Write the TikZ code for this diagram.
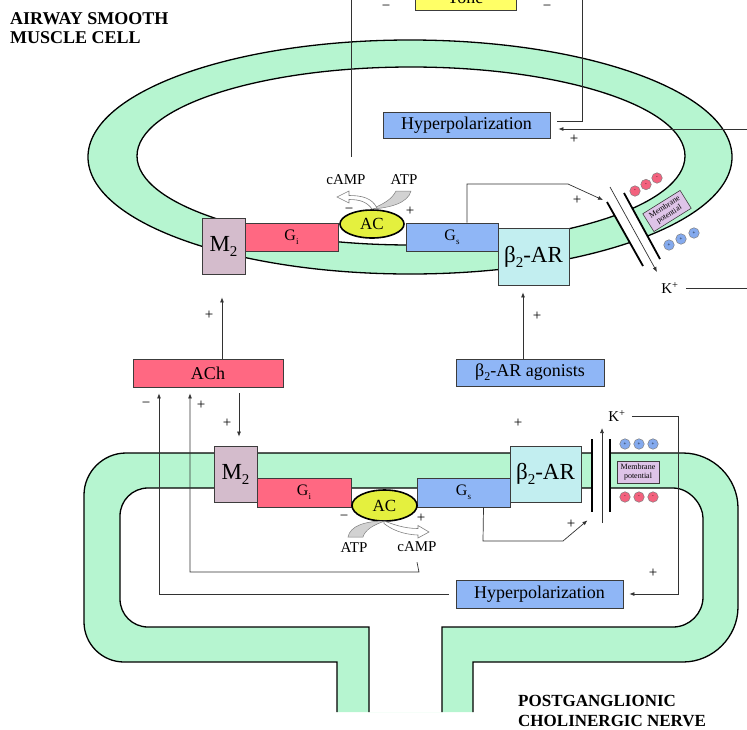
\documentclass[tikz,border=0pt]{standalone}
\usepackage{fontspec}
\setmainfont{Liberation Serif}
\usetikzlibrary{arrows.meta,shapes.geometric}
\definecolor{memgreen}{RGB}{182,245,208}
\definecolor{gired}{RGB}{255,104,130}
\definecolor{gsblue}{RGB}{143,182,246}
\definecolor{mauve}{RGB}{212,188,204}
\definecolor{bcyan}{RGB}{194,238,240}
\definecolor{acyellow}{RGB}{228,240,62}
\definecolor{toneyellow}{RGB}{255,255,102}
\definecolor{lavender}{RGB}{222,196,232}
\definecolor{ionred}{RGB}{243,98,126}
\definecolor{ionblue}{RGB}{132,170,238}
\definecolor{boxline}{RGB}{60,60,60}
\definecolor{linegray}{RGB}{50,50,50}
\newcommand\myfs[1]{\fontsize{#1}{#1}\selectfont}
\newcommand\lsub[3]{\raisebox{-#2}{\fontsize{#3}{#3}\selectfont #1}}
\begin{document}
\begin{tikzpicture}[x=1pt,y=-1pt,
  box/.style={draw=boxline, line width=0.8pt, inner sep=0pt, text=black},
  memline/.style={draw=black, line width=1.3pt},
  conn/.style={draw=linegray, line width=0.7pt},
  arr/.style={conn, -{Latex[length=5pt,width=4pt]}},
  chan/.style={draw=black, line width=1.8pt},
  sgn/.style={font=\myfs{15}, inner sep=0pt},
  lbl/.style={font=\myfs{15}, inner sep=0pt},
  ion/.style={circle, draw=gray, line width=0.5pt, minimum size=10.5pt, inner sep=0pt, font=\myfs{5}},
  mpbox/.style={draw=boxline, line width=0.6pt, fill=lavender, inner sep=1.2pt, align=center, font=\fontsize{8}{8.5}\selectfont},
]
\useasboundingbox (0,0) rectangle (747,729);
\clip (0,0) rectangle (747,729);

% ---------- top cell membrane ----------
\fill[memgreen, even odd rule] (410,157) ellipse [x radius=322, y radius=117] (411,156) ellipse [x radius=274, y radius=89];
\draw[memline] (410,157) ellipse [x radius=322, y radius=117];
\draw[memline] (411,156) ellipse [x radius=274, y radius=89];
% channel gap
\fill[white] (607,202) -- (624,193) -- (660,259) -- (643,266) -- cycle;

% ---------- nerve terminal ----------
\path[fill=memgreen, even odd rule]
 (337,712) -- (337,662) -- (124,662) .. controls (102,662) and (84,644) .. (84,622) -- (84,495) .. controls (84,472) and (103,453) .. (126,453) -- (683,453) .. controls (713,453) and (738,478) .. (738,508) -- (738,607) .. controls (738,637) and (713,662) .. (683,662) -- (473,662) -- (473,712) -- cycle
 (369,712) -- (369,627) -- (148,627) .. controls (132.5,627) and (120,614.5) .. (120,599) -- (120,516) .. controls (120,500.5) and (132.5,488) .. (148,488) -- (673,488) .. controls (689.5,488) and (703,504.5) .. (703,518) -- (703,597) .. controls (703,613.5) and (689.5,627) .. (673,627) -- (442,627) -- (442,712) -- cycle;
\draw[memline] (337,712) -- (337,662) -- (124,662) .. controls (102,662) and (84,644) .. (84,622) -- (84,495) .. controls (84,472) and (103,453) .. (126,453) -- (683,453) .. controls (713,453) and (738,478) .. (738,508) -- (738,607) .. controls (738,637) and (713,662) .. (683,662) -- (473,662) -- (473,712);
\draw[memline] (369,712) -- (369,627) -- (148,627) .. controls (132.5,627) and (120,614.5) .. (120,599) -- (120,516) .. controls (120,500.5) and (132.5,488) .. (148,488) -- (673,488) .. controls (689.5,488) and (703,504.5) .. (703,518) -- (703,597) .. controls (703,613.5) and (689.5,627) .. (673,627) -- (442,627) -- (442,712);
\fill[white] (592.5,450) rectangle (609.5,491);

% ---------- top cell nodes ----------
\node[box, fill=toneyellow, minimum width=101pt, minimum height=30pt] (tone) at (465.5,-5) {};
\node[anchor=base, inner sep=0pt, font=\myfs{18}] (tonetxt) at (465.5,3) {Tone};
\node[box, fill=gsblue, minimum width=167pt, minimum height=26pt, font=\myfs{18}] (hypt) at (466.5,125) {Hyperpolarization};
\node[box, fill=mauve, minimum width=43pt, minimum height=56pt, font=\myfs{23}] (m2t) at (223.5,246) {M\lsub{2}{5pt}{15}};
\node[box, fill=gired, minimum width=93pt, minimum height=28pt, font=\myfs{16}] (git) at (291.5,237) {G\lsub{i}{4pt}{9}};
\node[box, fill=gsblue, minimum width=92pt, minimum height=28pt, font=\myfs{16}] (gst) at (452,237) {G\lsub{s}{4pt}{9}};
\node[ellipse, draw=black, line width=1.6pt, fill=acyellow, minimum width=64pt, minimum height=28pt, inner sep=0pt, font=\myfs{17}] (act) at (372,224) {AC};
\node[box, fill=bcyan, minimum width=71pt, minimum height=57pt, font=\myfs{23}] (b2t) at (533.5,256.5) {β\lsub{2}{5pt}{15}-AR};

% channel (top)
\draw[chan] (607,202) -- (643,266);
\draw[chan] (624,193) -- (660,259);
\coordinate (kt1) at (610,187);
\coordinate (kt2) at (657,272);
\draw[arr] (kt1) -- (kt2);
\node[mpbox, rotate=32, minimum width=44pt, minimum height=21pt] (mpt) at (667,211) {Membrane\\potential};
\foreach \p/\q in {635/191, 646/184.5, 657/178} \node[ion, fill=ionred] at (\p,\q) {-};
\foreach \p/\q in {669/245, 681/239, 694/233} \node[ion, fill=ionblue] at (\p,\q) {+};
\node[lbl] (kplt) at (670,288) {K\textsuperscript{+}};
\coordinate (kto) at (747,288);
\draw[conn] ([xshift=7pt]kplt.east) -- (kto);

% top curved arrows
\fill[gray!35, draw=gray, line width=0.5pt] (411,191) .. controls (408,203) and (390,208) .. (371,209) .. controls (384,204) and (392,199) .. (396,191) -- cycle;
\draw[gray, line width=0.6pt, fill=white] (377,208) .. controls (372,198) and (362,195.5) .. (349,195.5) -- (349,191) -- (337,197) -- (349,203) -- (349,199.5) .. controls (360,199.5) and (367,202) .. (372,209) -- cycle;
\node[lbl] (campt) at (346,180) {cAMP};
\node[lbl] (atpt) at (404,180) {ATP};
\node[sgn] at (349,211) {−};
\node[sgn] at (410,211) {+};

% top connectors
\coordinate (tl0) at (351,0);
\coordinate (tl1) at (351,157);
\draw[conn] (tl0) -- (tl1);
\coordinate (tr0) at (582,0);
\draw[conn] ([xshift=7pt,yshift=4pt]hypt.east) -- (582,121) -- (tr0);
\coordinate (hin) at (747,129);
\draw[arr] (hin) -- ([xshift=8pt,yshift=-4pt]hypt.east);
\node[sgn] at (574,139) {+};
\node[sgn] at (386,8) {−};
\node[sgn] at (547,8) {−};
\coordinate (gsc) at (603,200);
\draw[arr] ([xshift=15pt]gst.north) -- (467,184) -- (568,184) -- (gsc);
\node[sgn] at (577,200) {+};

% ---------- middle ----------
\node[box, fill=gired, minimum width=150pt, minimum height=28pt, font=\myfs{18}] (ach) at (208,373) {ACh};
\node[box, fill=gsblue, minimum width=148pt, minimum height=27pt, font=\myfs{18}] (agon) at (530,372.5) {β\lsub{2}{4pt}{12}-AR agonists};
\draw[arr] ([xshift=14pt]ach.north) -- ([xshift=-1.5pt,yshift=-23pt]m2t.south);
\node[sgn] at (209,315) {+};
\draw[arr] ([xshift=-7pt]agon.north) -- ([xshift=-10.5pt,yshift=-7pt]b2t.south);
\node[sgn] at (537,316) {+};

% ---------- bottom nodes ----------
\node[box, fill=mauve, minimum width=43pt, minimum height=56pt, font=\myfs{23}] (m2b) at (235.5,474) {M\lsub{2}{5pt}{15}};
\node[box, fill=gired, minimum width=94pt, minimum height=29pt, font=\myfs{16}] (gib) at (304,492.5) {G\lsub{i}{4pt}{9}};
\node[box, fill=gsblue, minimum width=93pt, minimum height=29pt, font=\myfs{16}] (gsb) at (463.5,492.5) {G\lsub{s}{4pt}{9}};
\node[ellipse, draw=black, line width=1.6pt, fill=acyellow, minimum width=65pt, minimum height=31pt, inner sep=0pt, font=\myfs{17}] (acb) at (384.5,505.5) {AC};
\node[box, fill=bcyan, minimum width=71pt, minimum height=56pt, font=\myfs{23}] (b2b) at (545.5,474) {β\lsub{2}{5pt}{15}-AR};
\node[box, fill=gsblue, minimum width=167pt, minimum height=28pt, font=\myfs{18}] (hypb) at (539.5,594) {Hyperpolarization};

% bottom channel
\draw[chan] (592,439) -- (592,512);
\draw[chan] (610,439) -- (610,512);
\coordinate (kb1) at (602,523);
\coordinate (kb2) at (602,428);
\draw[arr] (kb1) -- (kb2);
\node[mpbox, minimum width=42pt, minimum height=22pt] (mpb) at (638,472) {Membrane\\potential};
\foreach \p in {625,639,653} \node[ion, fill=ionblue] at (\p,444) {+};
\foreach \p in {625,639,653} \node[ion, fill=ionred] at (\p,497) {-};
\node[lbl] (kplb) at (617,416) {K\textsuperscript{+}};

% bottom curved arrows
\fill[gray!35, draw=gray, line width=0.5pt] (348,537) .. controls (350,526) and (365,521) .. (385,521) .. controls (373,525) and (365,530) .. (363,537) -- cycle;
\draw[gray, line width=0.6pt, fill=white] (384,521) .. controls (393,524) and (403,528.5) .. (418,528.5) -- (418,525.5) -- (429,532) -- (418,538) -- (418,535) .. controls (402,534.5) and (391,529) .. (384,523.5) -- cycle;
\node[lbl] (atpb) at (354,548) {ATP};
\node[lbl] (campb) at (417,547) {cAMP};
\node[sgn] at (344,518) {−};
\node[sgn] at (421,518) {+};

% bottom connectors
\draw[arr] ([xshift=31pt,yshift=-6pt]ach.south) -- ([xshift=3.5pt,yshift=9pt]m2b.north);
\node[sgn] at (227,423) {+};
\node[sgn] at (518,423) {+};
\draw[arr] ([xshift=-7pt]hypb.west) -- (159,594) -- ([xshift=-49pt,yshift=-6pt]ach.south);
\node[sgn] at (146,405) {−};
\draw[arr] ([yshift=-10pt]campb.south) -- (419,572) -- (190,572) -- ([xshift=-18pt,yshift=-6pt]ach.south);
\node[sgn] at (201,405) {+};
\draw[arr] ([xshift=20pt]gsb.south) -- (483,541) -- (563,541) -- ([xshift=6pt,yshift=-18pt]b2b.south east);
\node[sgn] at (571,524) {+};
\draw[arr] ([xshift=6pt]kplb.east) -- (678,416) -- (678,594) -- ([xshift=6pt]hypb.east);
\node[sgn] at (653,573) {+};

% titles
\node[anchor=north west, align=left, inner sep=0pt, font=\fontsize{18}{19}\selectfont\bfseries] (t1) at (10,12) {AIRWAY SMOOTH\\MUSCLE CELL};
\node[anchor=north west, align=left, inner sep=0pt, font=\fontsize{17}{20}\selectfont\bfseries] (t2) at (518,695) {POSTGANGLIONIC\\CHOLINERGIC NERVE};
\end{tikzpicture}
\end{document}
